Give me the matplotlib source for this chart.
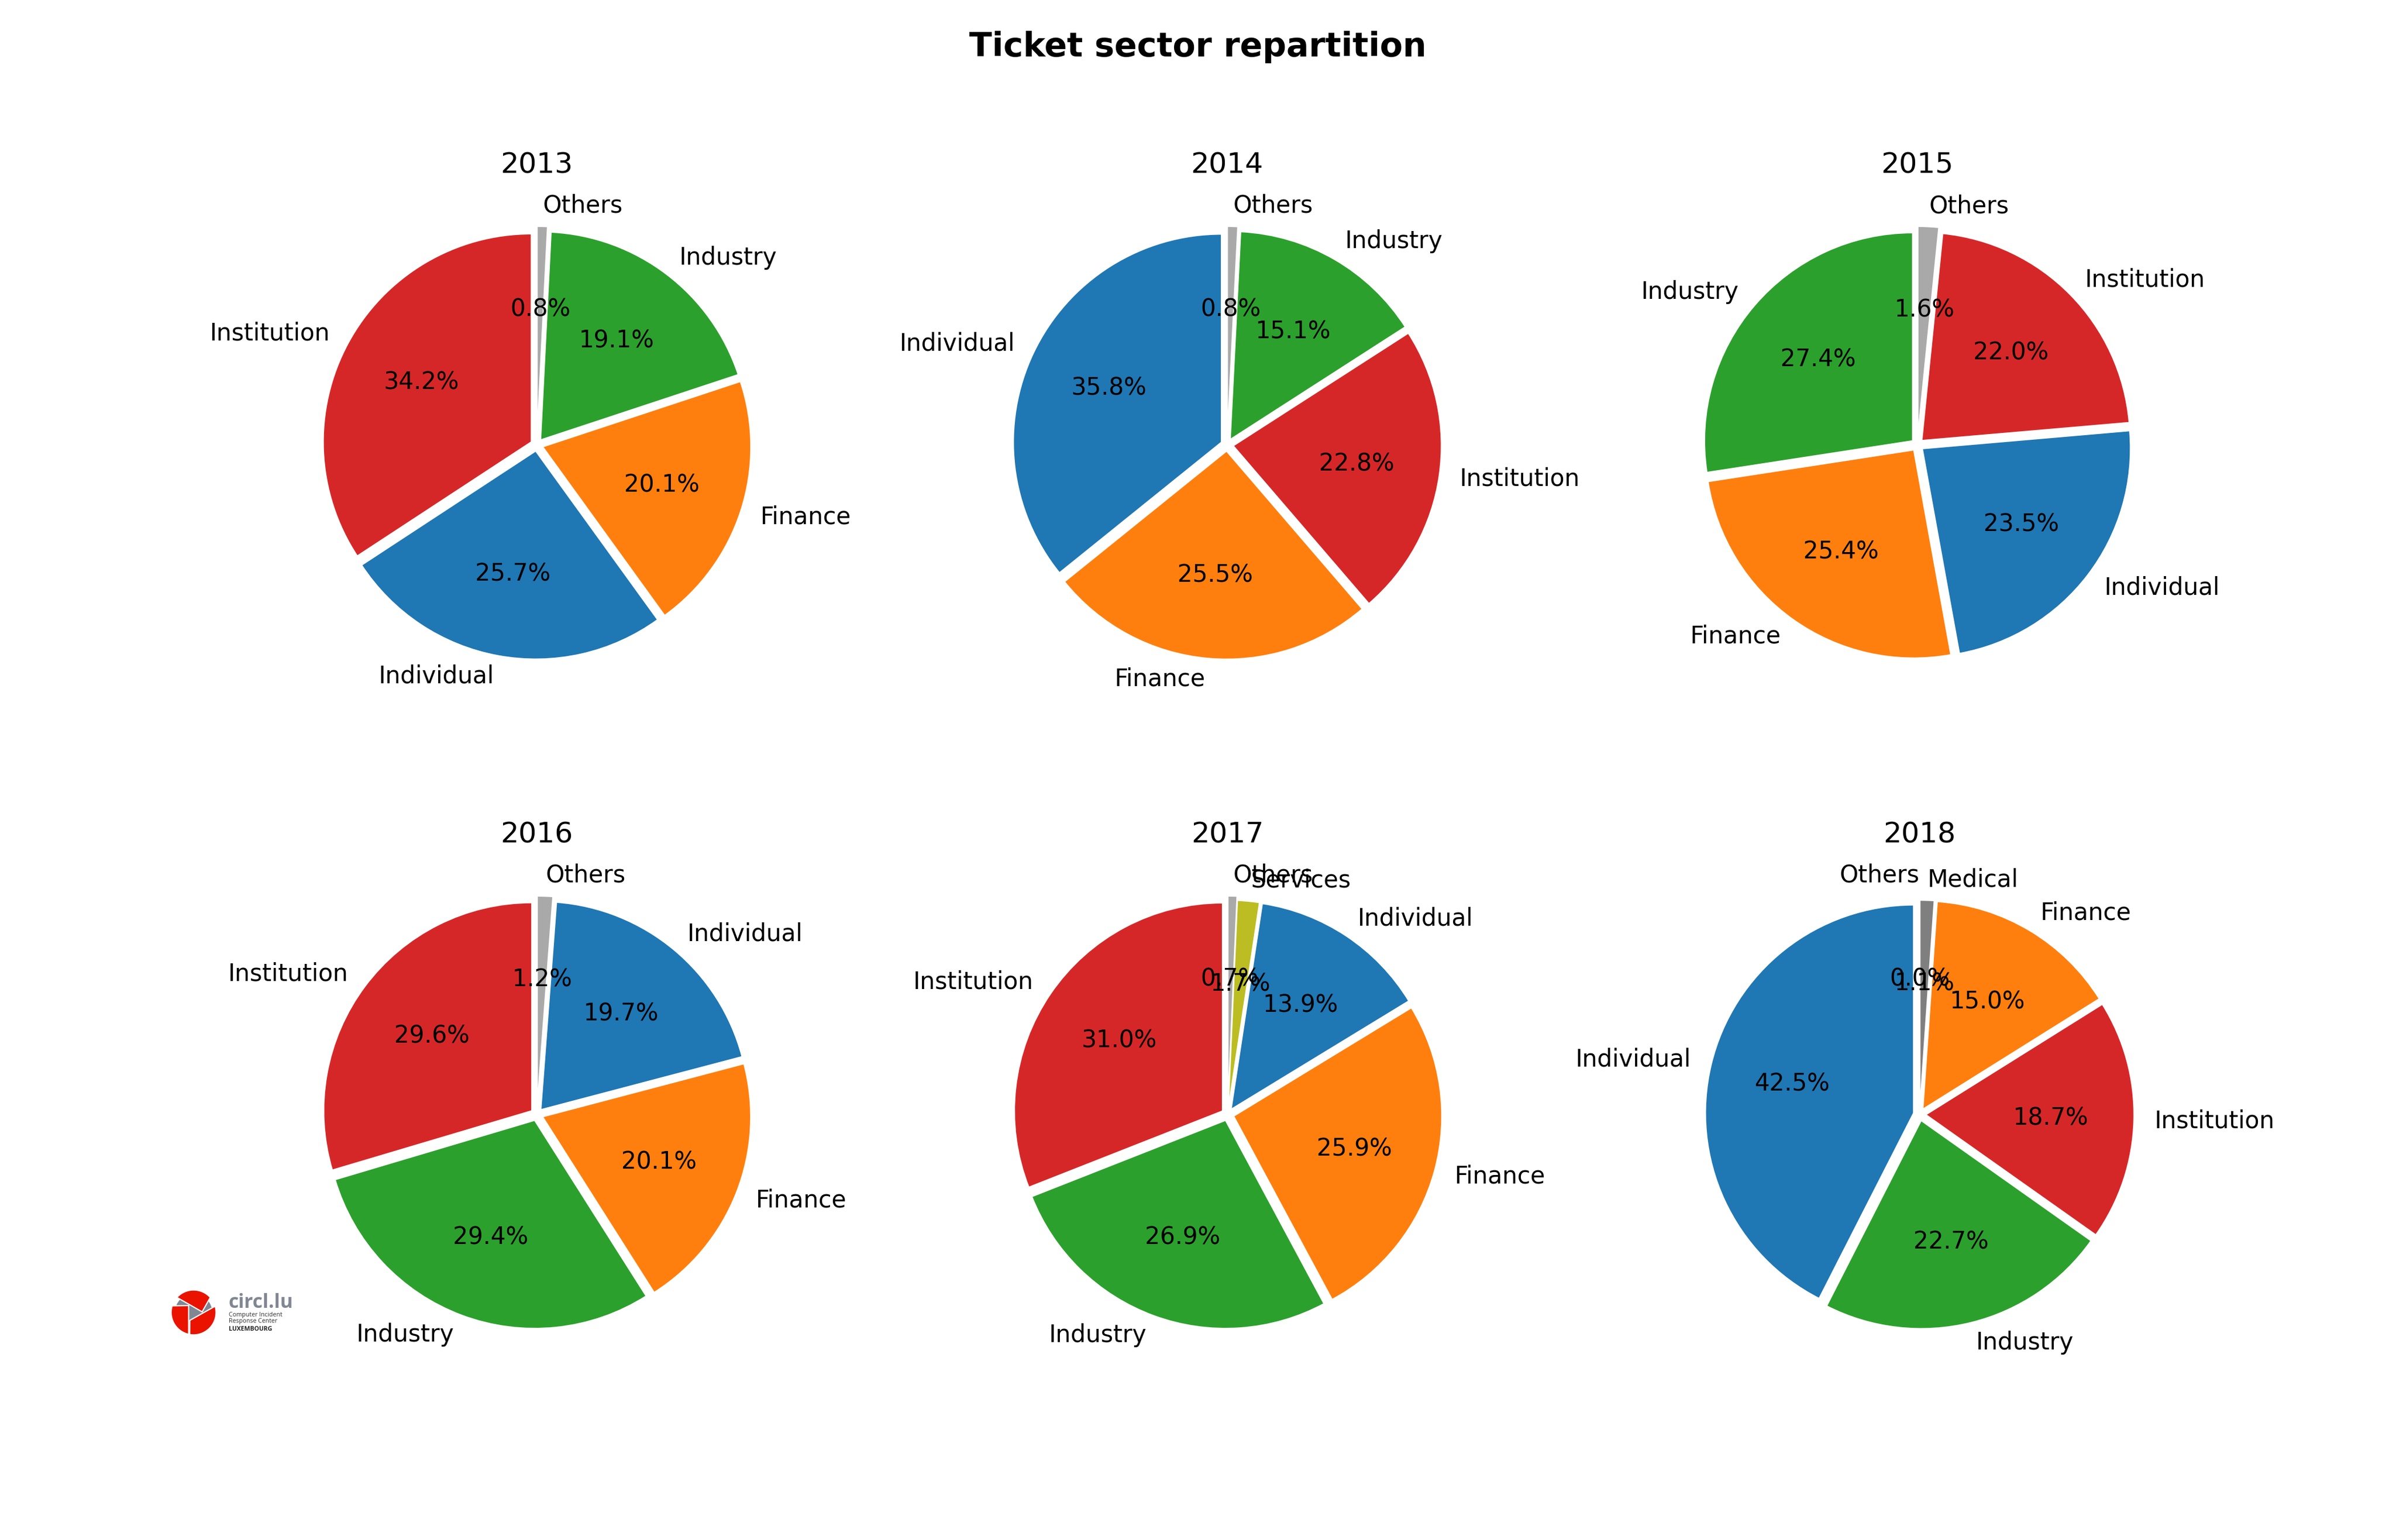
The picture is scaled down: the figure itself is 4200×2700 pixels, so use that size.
import numpy as np
import matplotlib
matplotlib.use('Agg')
import matplotlib.pyplot as plt
from matplotlib.patches import Circle, Polygon

years = ['2013', '2014', '2015', '2016', '2017', '2018']

labels_2013 = ['Others', 'Industry', 'Finance', 'Individual', 'Institution']
values_2013 = [0.8, 19.1, 20.1, 25.7, 34.2]
labels_2014 = ['Others', 'Industry', 'Institution', 'Finance', 'Individual']
values_2014 = [0.8, 15.1, 22.8, 25.5, 35.8]
labels_2015 = ['Others', 'Institution', 'Individual', 'Finance', 'Industry']
values_2015 = [1.6, 22.0, 23.5, 25.4, 27.4]
labels_2016 = ['Others', 'Individual', 'Finance', 'Industry', 'Institution']
values_2016 = [1.2, 19.7, 20.1, 29.4, 29.6]
labels_2017 = ['Others', 'Services', 'Individual', 'Finance', 'Industry', 'Institution']
values_2017 = [0.7, 1.7, 13.9, 25.9, 26.9, 31.0]
labels_2018 = ['Others', 'Medical', 'Finance', 'Institution', 'Industry', 'Individual']
values_2018 = [0.0, 1.1, 15.0, 18.7, 22.7, 42.5]

all_labels = [labels_2013, labels_2014, labels_2015, labels_2016, labels_2017, labels_2018]
all_values = [values_2013, values_2014, values_2015, values_2016, values_2017, values_2018]

sector_colors = {'Individual': 'tab:blue', 'Finance': 'tab:orange', 'Industry': 'tab:green',
                 'Institution': 'tab:red', 'Others': 'darkgrey', 'Services': 'tab:olive',
                 'Medical': 'tab:gray'}

W, H = 4200, 2700
fig = plt.figure(figsize=(14, 9), dpi=300)
fig.suptitle('Ticket sector repartition', fontsize=14, fontweight='bold', x=0.5, y=0.9695, va='center')

centers_x = [941, 2151, 3361, 941, 2152, 3365]
centers_y = [780, 1954]
side = 912

for i in range(6):
    cx = centers_x[i]
    cy = centers_y[i // 3]
    ax = fig.add_axes([(cx - side / 2) / W, 1 - (cy + side / 2) / H, side / W, side / H])
    values = all_values[i]
    labels = all_labels[i]
    explode = [0.05 if l == 'Others' else 0.03 for l in labels]
    patches, texts, autotexts = ax.pie(values, labels=labels, autopct='%1.1f%%', startangle=90,
                                       counterclock=False, explode=explode,
                                       colors=[sector_colors[l] for l in labels],
                                       wedgeprops={'edgecolor': 'white', 'linewidth': 0.5})
    ax.set_title(years[i], fontsize=12, pad=5)
    if years[i] == '2018':
        texts[0].set_ha('right')  # zero slice label sits left of the top

# logo, in the pixel space of the corner it occupies
logo = fig.add_axes([230 / W, 1 - 2400 / H, 320 / W, 200 / H])
logo.set_xlim(0, 960)
logo.set_ylim(600, 0)
logo.axis('off')
logo_red = '#e91300'
logo_gray = '#808793'
logo_c = (328, 303)
logo_r = 118


def arc(a1, a2):
    t = np.radians(np.linspace(a1, a2, 30))
    return np.column_stack([logo_c[0] + logo_r * np.cos(t), logo_c[1] - logo_r * np.sin(t)])


logo.add_patch(Circle(logo_c, 98, color=logo_gray, lw=0))
top = np.vstack([arc(138, 42), [[373, 300]]])
left = np.vstack([[[302, 267]], arc(163, 270), [[302, 418]]])
right = np.vstack([[[308, 345]], arc(-100, 16), [[442, 270]]])
for pts in [top, left, right]:
    logo.add_patch(Polygon(pts, closed=True, facecolor=logo_red, edgecolor='white', lw=0.5))
logo.text(510, 280, 'circl.lu', fontsize=8.2, fontweight='bold', color=logo_gray, family='Open Sans')
logo.text(512, 324, 'Computer Incident', fontsize=2.6, color='#333333', family='Open Sans')
logo.text(512, 358, 'Response Center', fontsize=2.6, color='#333333', family='Open Sans')
logo.text(512, 400, 'LUXEMBOURG', fontsize=2.6, fontweight='bold', color='#222222', family='Open Sans')

fig.savefig('out.png', dpi=300)
